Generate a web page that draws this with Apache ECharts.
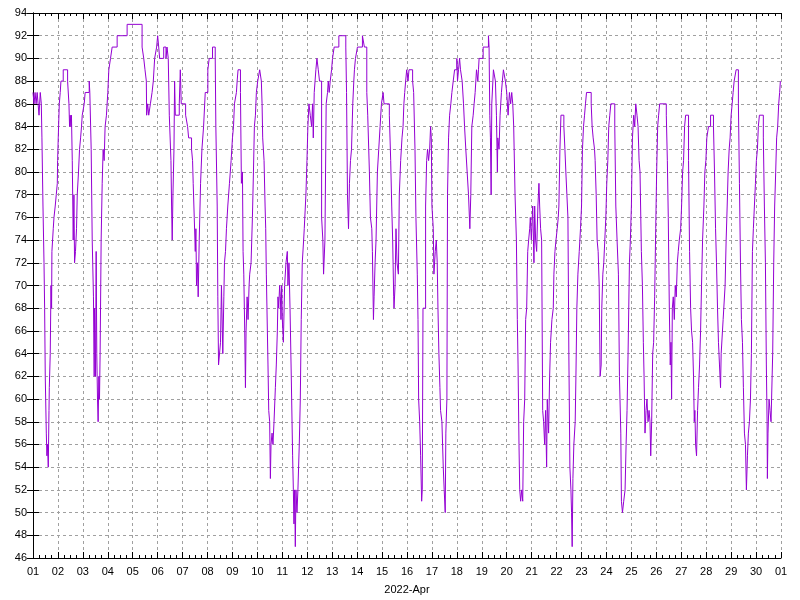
<!DOCTYPE html>
<html>
<head>
<meta charset="utf-8">
<script src="https://cdn.jsdelivr.net/npm/echarts@6/dist/echarts.min.js"></script>
<style>html,body{margin:0;padding:0;background:#fff}#chart{width:800px;height:600px}</style>
</head>
<body>
<div id="chart"></div>
<script>
// Hours since 2022-04-01 00:00 at which the reading changes
const hours = [
0,1,2,3,4,5.8,7,8,8.6,9.6,10.6,11.2,11.8,12.8,13.4,14,14.7,15.4,15.7,16.6,17.3,17.9,18.2,19.5,20.2,21.4,22.4,23.4,23.7,24.3,25.3,26.2,26.9,29.1,33.3,34.6,35.2,35.8,36.5,37,37.8,38.7,39.4,40,40.9,41.9,42.6,43.8,44.8,45.8,46.7,47.4,49.3,50.2,54.1,54.7,56,57,58.2,58.9,59.2,60.2,60.8,61.4,62.1,62.7,63.4,64,64.6,65.6,66.6,67.5,68.5,69.4,70.7,72,73,74.6,76.2,81,90.6,
105,106.6,107.8,109.1,109.4,110.4,111.4,113,114.6,115.8,117.1,119,120,121,121.9,125.8,128,129,130.2,131.2,132.8,133.4,134,134.7,135.7,136.3,137,140.8,141.8,142.7,146.9,148.8,149.8,152.6,153.6,154.2,155.2,156.2,156.8,157.4,158.4,159,160,161.3,162.6,164.2,165.8,168.3,169.6,172.8,175.4,176,177.3,177.9,178.6,
179.5,180.5,181.4,182.7,183.7,184.3,185.3,186.2,187.5,189.1,190.7,192,193,193.9,195.8,196.5,197.4,199.7,200.6,201.6,202.2,202.9,203.8,204.5,205.1,206.1,207,208,208.6,209.9,211.2,212.2,213.1,214.1,215,216.3,218.2,219.8,220.5,221.1,222.4,223.4,224,224.6,225.6,226.2,226.9,227.8,228.5,229.1,230.1,231,232,233.3,234.2,235.2,235.8,236.5,237.4,238.1,238.7,239.4,240,241,242.2,243.5,244.8,245.4,246.4,247.4,248.6,249.9,250.6,251.2,251.8,252.5,253.1,254.1,255,256.3,257.3,258.2,259.2,260.5,261.1,262.7,263.7,264.6,265.6,266.9,
268.2,269.1,269.8,270.7,272.3,273.3,274.6,275.8,277.8,279,279.7,281,282.2,283.5,284.2,285.1,286.1,287.4,288.3,289.9,294.4,301.1,301.8,302.7,303.7,304.6,305.6,306.6,307.8,308.8,309.4,310.4,312.3,317.1,319,321.3,322.2,323.8,324.8,326.1,326.7,327.7,328.3,329.3,330.2,331.5,332.8,334.1,335.4,337,337.9,343,344.3,345.3,346.2,347.2,347.5,348.5,349.4,350.4,351.7,352.6,353.9,355.2,356.2,
357,357.8,358.7,359.7,361,361.9,365.4,366.4,367.7,368.6,369.9,370.6,371.2,372.2,373.1,374.1,374.7,375.4,377.9,378.9,379.8,380.8,381.8,382.7,383.4,384,385.3,385.9,387.2,388.2,389.1,389.8,390.7,391.7,392.3,393.6,394.9,395.8,396.8,397.4,398.4,399,400,401,402.2,403.2,404.5,405.8,408,408.6,409.6,410.6,411.5,413.1,414.4,415.4,416.6,417.9,419.2,420.5,421.4,422.4,423.7,424.6,425.6,426.9,428.2,428.8,429.4,433.3,438.4,439,439.7,440.3,441,441.6,
443.2,445.1,446.1,447,447.4,448.6,449.6,450.9,451.8,452.8,454.7,456,457.3,458.6,459.8,460.8,461.8,462.7,464,465.3,466.2,466.9,467.8,468.5,469.4,470.4,471.4,472.3,473.3,474.2,475.2,476.2,477.1,478.1,478.7,479.7,481,482.2,482.9,483.8,484.8,486,487,487.7,488.6,489.6,490.6,491.5,492.5,493.4,494.4,495,496.3,497.3,498.2,499.5,500.8,501.4,502.4,503.4,504.6,505.6,506.2,507.2,508.2,511,512,512.9,513.9,514.9,515.8,516.8,517.8,518.4,519,519.7,520.6,521.9,522.6,523.5,524.5,525.8,527,528,528.9,529.9,530.9,531.8,532.8,
537.3,538.2,539.2,540.5,541.1,541.4,542.1,543,544,545,545.9,546.9,547.5,548.5,549.4,550.4,551.4,552.3,553.3,554.2,555.2,556.2,560,561,562.2,563.5,564.5,565.8,566.4,567.4,568.6,569.9,570.9,571.8,572.8,574.1,575,576,577,578.2,579.2,580.2,581.4,582.4,583.4,584.3,585.6,586.6,587.5,588.2,589.1,590.1,591,592,593,593.9,594.6,595.5,596.5,597.4,598.4,599.4,600.3,601.3,602.2,603.2,609.6,610.6,611.5,612.5,613.4,614.1,614.7,615.4,616.3,617.3,618.2,619.2,620.2,621.1,622.1,
623.4,624.3,625.3,626.2,627.2,628.2,631,632,633,633.9,634.9,635.8,636.5,637.1,637.8,638.7,639.7,640.6,641.6,642.6,643.5,644.5,645.8,646.7,647.7,648.6,650.2,652.2,655,656,657,657.9,658.9,659.8,660.8,661.8,662.4,664.3,666.2,667.2,668.2,669.1,670.1,671,672,673,673.9,674.9,676.8,679,680,681,681.9,682.9,683.8,684.8,685.8,686.7,687.7,688.6,689.6,690.6,691.5,692.5,693.4,694.4,695.4,696.3,697.3,698.2,699.2,703,704,705,705.9,706.6,706.9,707.5,708.5,709.4,710.4,712,713,713.9,714.9,715.8,716.8,717.8,718.7,719.4,720
];
// Relative humidity (%) from each of those times
const humidity = [
87,86,87,86,87,85,87,86,83,77,72,68,62,57,55,56,54,59,61,64,70,68,73,75,76,77,78,79,81,83,86,87,88,89,88,86,84,85,84,85,81,74,78,72,73,75,78,80,82,83,84,85,86,87,88,87,82,74,69,62,68,62,73,64,60,58,62,60,64,74,79,82,81,84,85,87,89,90,91,92,93,
91,90,89,88,85,86,85,86,87,88,90,91,92,91,90,91,90,91,90,85,81,77,74,78,82,88,85,86,89,86,85,84,83,82,81,79,76,73,75,70,72,69,74,79,82,84,87,89,90,91,90,84,77,69,63,
63,65,70,64,69,72,73,75,77,79,81,83,84,86,87,88,89,87,79,80,73,71,66,61,66,69,67,70,71,72,76,80,84,85,87,88,89,88,86,83,81,77,75,71,66,63,59,58,53,56,57,56,58,61,63,66,69,68,70,69,67,70,67,65,70,72,73,70,72,68,62,55,52,49,52,47,52,50,52,56,60,67,72,74,75,78,81,84,86,85,
84,86,83,87,89,90,89,88,76,74,71,74,86,87,88,87,88,89,90,91,92,91,87,78,75,79,81,82,86,88,89,90,91,92,91,87,85,80,76,75,73,67,69,72,74,80,82,84,86,87,86,85,81,77,74,69,68,70,75,72,71,78,81,83,84,
86,87,88,89,88,89,88,87,82,76,71,67,60,58,55,51,52,68,77,81,82,81,82,84,83,77,75,71,73,74,72,68,64,61,59,58,54,52,50,57,60,78,83,85,86,87,88,89,90,88,89,90,89,88,86,84,82,80,78,75,78,84,85,86,87,89,88,89,90,91,92,91,85,83,78,86,
89,88,85,80,83,82,85,87,88,89,88,87,85,87,86,87,86,84,78,74,67,63,56,52,51,52,51,58,60,67,68,73,74,75,76,74,77,72,77,74,73,77,79,77,75,74,59,58,56,59,54,60,57,62,65,67,68,71,73,74,75,76,77,82,85,84,82,80,78,76,64,54,52,50,47,53,56,58,62,68,71,73,75,77,82,84,85,86,87,
86,84,83,82,81,80,78,74,73,70,62,63,68,71,72,74,76,79,81,84,85,86,84,77,74,71,62,57,51,50,51,52,56,59,64,72,74,77,83,85,84,86,85,84,81,80,73,70,65,62,57,59,60,58,59,58,55,58,64,65,69,75,80,84,85,86,85,81,76,68,63,65,60,68,69,67,70,69,72,73,74,
75,77,80,81,84,85,81,73,68,66,65,62,58,59,56,55,59,61,63,66,70,74,77,80,81,83,84,85,84,80,75,72,68,65,63,61,64,67,70,74,77,80,82,83,85,86,87,88,89,86,79,72,67,65,61,57,56,52,55,57,58,60,64,73,75,77,79,81,82,84,85,83,77,72,63,58,53,57,60,59,58,64,72,77,80,83,84,86,87,88,88
];
const dayLabels = ['01','02','03','04','05','06','07','08','09','10','11','12','13','14','15','16','17','18','19','20','21','22','23','24','25','26','27','28','29','30','01'];
const yMin = 46, yMax = 94, yStep = 2;
const xTitle = '2022-Apr';

const points = hours.map((h, i) => [h, humidity[i]]);
const FONT = 'Liberation Sans';
const axisLine = { show: true, lineStyle: { color: '#000', width: 1 } };
const gridLine = { show: true, lineStyle: { color: '#a0a0a0', width: 1, type: [3, 3] } };

const chart = echarts.init(document.getElementById('chart'), null, { renderer: 'canvas' });
chart.setOption({
  animation: false,
  backgroundColor: '#fff',
  grid: { left: 33, right: 19, top: 13, bottom: 42, containLabel: false },
  xAxis: [
    {
      type: 'value', min: 0, max: (dayLabels.length - 1) * 24, interval: 24, position: 'bottom',
      axisLine: axisLine,
      axisTick: { show: true, inside: true, length: 6, lineStyle: { color: '#000' } },
      minorTick: { show: true, splitNumber: 4, length: 3, lineStyle: { color: '#000' } },
      splitLine: gridLine,
      axisLabel: { show: true, margin: 8, color: '#000', fontFamily: FONT, fontSize: 11,
        formatter: v => dayLabels[Math.round(v / 24)] },
      name: xTitle, nameLocation: 'middle', nameGap: 26,
      nameTextStyle: { color: '#000', fontFamily: FONT, fontSize: 11 }
    },
    {
      type: 'value', min: 0, max: (dayLabels.length - 1) * 24, interval: 24, position: 'top',
      axisLine: axisLine,
      axisTick: { show: true, inside: true, length: 6, lineStyle: { color: '#000' } },
      minorTick: { show: true, splitNumber: 4, length: 3, lineStyle: { color: '#000' } },
      splitLine: { show: false }, axisLabel: { show: false }
    }
  ],
  yAxis: [
    {
      type: 'value', min: yMin, max: yMax, interval: yStep, position: 'left',
      axisLine: axisLine,
      axisTick: { show: true, inside: true, length: 6, lineStyle: { color: '#000' } },
      splitLine: gridLine,
      axisLabel: { show: true, margin: 6, color: '#000', fontFamily: FONT, fontSize: 11 }
    },
    {
      type: 'value', min: yMin, max: yMax, interval: yStep, position: 'right',
      axisLine: axisLine,
      axisTick: { show: true, inside: true, length: 6, lineStyle: { color: '#000' } },
      splitLine: { show: false }, axisLabel: { show: false }
    }
  ],
  series: [{
    type: 'line', step: 'end', data: points, showSymbol: false, symbol: 'none',
    xAxisIndex: 0, yAxisIndex: 0,
    lineStyle: { color: '#9400D3', width: 1 }, itemStyle: { color: '#9400D3' }
  }]
});
</script>
</body>
</html>
